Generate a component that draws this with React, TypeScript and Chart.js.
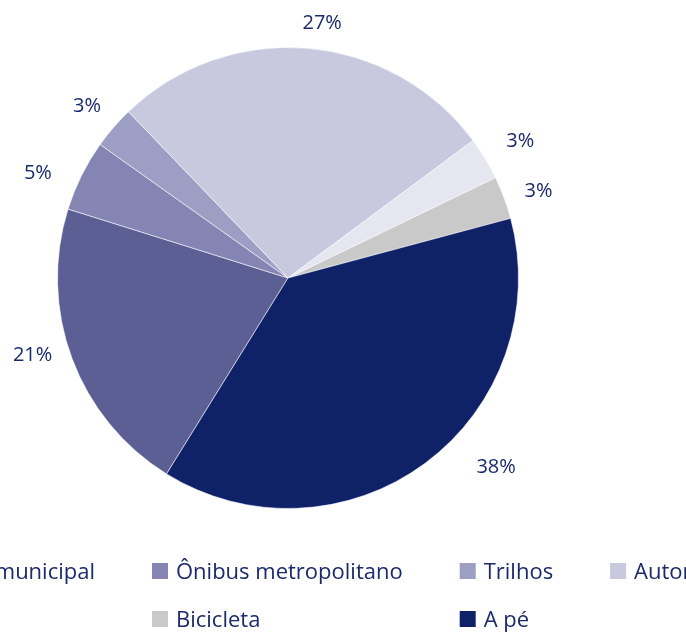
import React, { useEffect, useRef } from 'react';
import { Chart, registerables } from 'chart.js';

Chart.register(...registerables);

// ---- data ----
const categories = [
  'Ônibus municipal',
  'Ônibus metropolitano',
  'Trilhos',
  'Automóvel',
  'Moto',
  'Bicicleta',
  'A pé',
];
const shares = [21, 5, 3, 27, 3, 3, 38];

// ---- styles ----
const sliceColors = ['#5c5f94', '#8485b3', '#9d9ec4', '#c8c8df', '#e6e6f1', '#c9c9c9', '#0f2167'];
const TEXT = '#1a2a6c';
const FONT = '"Open Sans", "Noto Sans", sans-serif';
const LABEL_SIZE = 20;
const LEGEND_SIZE = 22;
// small label placement tweaks (degrees / px), mimicking the original layout
const labelAngleNudge = [3.8, -3.5, 0, 2.8, 0.4, 1.1, -11.3];
const labelRadiusNudge = [0, 5, -1, -8, 4, -1, 14];
const LABEL_OFFSET = 36;

const LEGEND_COLS = 4;
const LEGEND_BOX = 16;
const LEGEND_GAP = 8;
const LEGEND_SPACING = 57;
const LEGEND_COL1_X = 152;
const LEGEND_ROW1_Y = 571;
const LEGEND_ROW_H = 48;

const pctLabels = {
  id: 'pctLabels',
  afterDatasetsDraw(chart: any) {
    const meta = chart.getDatasetMeta(0);
    const ctx = chart.ctx;
    ctx.save();
    ctx.font = `${LABEL_SIZE}px ${FONT}`;
    ctx.fillStyle = TEXT;
    ctx.textAlign = 'center';
    ctx.textBaseline = 'alphabetic';
    meta.data.forEach((arc: any, i: number) => {
      const p = arc.getProps(['x', 'y', 'startAngle', 'endAngle', 'outerRadius'], true);
      const mid = (p.startAngle + p.endAngle) / 2 + (labelAngleNudge[i] * Math.PI) / 180;
      const d = p.outerRadius + LABEL_OFFSET + labelRadiusNudge[i];
      const cx = p.x + Math.cos(mid) * d;
      const cy = p.y + Math.sin(mid) * d;
      ctx.fillText(`${shares[i]}%`, cx, cy + LABEL_SIZE * 0.357);
    });
    ctx.restore();
  },
};

const gridLegend = {
  id: 'gridLegend',
  afterDraw(chart: any) {
    const ctx = chart.ctx;
    const labels: string[] = chart.data.labels;
    const colors: string[] = chart.data.datasets[0].backgroundColor;
    ctx.save();
    ctx.font = `${LEGEND_SIZE}px ${FONT}`;
    const colW: number[] = [];
    for (let c = 0; c < LEGEND_COLS; c++) {
      let m = 0;
      for (let i = c; i < labels.length; i += LEGEND_COLS) {
        m = Math.max(m, ctx.measureText(labels[i]).width);
      }
      colW.push(LEGEND_BOX + LEGEND_GAP + m + LEGEND_SPACING);
    }
    const colX: number[] = [];
    let x = LEGEND_COL1_X - colW[0];
    for (let c = 0; c < LEGEND_COLS; c++) {
      colX.push(x);
      x += colW[c];
    }
    ctx.textAlign = 'left';
    ctx.textBaseline = 'alphabetic';
    labels.forEach((lab, i) => {
      const c = i % LEGEND_COLS;
      const r = Math.floor(i / LEGEND_COLS);
      const cy = LEGEND_ROW1_Y + r * LEGEND_ROW_H;
      const bx = colX[c];
      ctx.fillStyle = colors[i];
      ctx.fillRect(bx, cy - LEGEND_BOX / 2, LEGEND_BOX, LEGEND_BOX);
      ctx.fillStyle = TEXT;
      ctx.fillText(lab, bx + LEGEND_BOX + LEGEND_GAP, cy + LEGEND_SIZE * 0.357);
    });
    ctx.restore();
  },
};

export default function App() {
  const ref = useRef<HTMLCanvasElement | null>(null);
  useEffect(() => {
    document.body.style.margin = '0';
    const canvas = ref.current;
    if (!canvas) return;
    Chart.defaults.font.family = FONT;
    const chart = new Chart(canvas, {
      type: 'pie',
      data: {
        labels: categories,
        datasets: [
          {
            data: shares,
            backgroundColor: sliceColors,
            borderColor: 'rgba(255,255,255,0.55)',
            borderWidth: 1,
          },
        ],
      },
      options: {
        responsive: false,
        animation: false,
        rotation: 211.8,
        layout: { padding: { left: 57, top: 47, right: 167, bottom: 123 } },
        plugins: {
          legend: { display: false },
          tooltip: { enabled: false },
        },
      },
      plugins: [pctLabels, gridLegend],
    });
    return () => chart.destroy();
  }, []);
  return (
    <div style={{ position: 'fixed', left: 0, top: 0, width: 686, height: 632, background: '#fff' }}>
      <canvas ref={ref} width={686} height={632} style={{ display: 'block' }} />
    </div>
  );
}
